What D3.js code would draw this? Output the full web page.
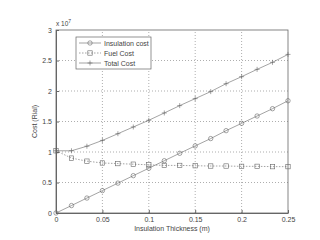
<!DOCTYPE html>
<html>
<head>
<meta charset="utf-8">
<script src="https://cdn.jsdelivr.net/npm/d3@7"></script>
<style>
  body { margin: 0; background: #fff; }
  text { font-family: "Liberation Sans", Arial, sans-serif; fill: #444; }
</style>
</head>
<body>
<div id="chart"></div>
<script>
// thickness (m), 16 samples
const thickness = [0, 0.0167, 0.0333, 0.05, 0.0667, 0.0833, 0.1, 0.1167, 0.1333, 0.15, 0.1667, 0.1833, 0.2, 0.2167, 0.2333, 0.25];
// costs in units of 1e7 Rial
const insulationCost = [0, 0.122, 0.245, 0.367, 0.49, 0.612, 0.734, 0.857, 0.979, 1.10, 1.22, 1.35, 1.47, 1.59, 1.71, 1.84];
const fuelCost = [1.02, 0.90, 0.85, 0.82, 0.81, 0.80, 0.79, 0.78, 0.78, 0.775, 0.77, 0.77, 0.765, 0.765, 0.76, 0.76];
const totalCost = [1.02, 1.02, 1.095, 1.19, 1.30, 1.41, 1.52, 1.64, 1.76, 1.875, 1.99, 2.12, 2.235, 2.355, 2.47, 2.60];
const xTicks = [0, 0.05, 0.1, 0.15, 0.2, 0.25];
const yTicks = [0, 0.5, 1, 1.5, 2, 2.5, 3];
const legendNames = ["Insulation cost", "Fuel Cost", "Total Cost"];

const width = 320, height = 240;
const margin = {top: 30, right: 32, bottom: 27, left: 56};

const svg = d3.select("#chart").append("svg")
  .attr("width", width).attr("height", height);

const x = d3.scaleLinear().domain([0, 0.25]).range([margin.left, width - margin.right]);
const y = d3.scaleLinear().domain([0, 3]).range([height - margin.bottom, margin.top]);

// grid
svg.append("g").selectAll("line").data(xTicks.slice(1, -1)).join("line")
  .attr("x1", d => x(d)).attr("x2", d => x(d))
  .attr("y1", y(0)).attr("y2", y(3))
  .attr("stroke", "#777").attr("stroke-width", 0.6).attr("stroke-dasharray", "1,2");
svg.append("g").selectAll("line").data(yTicks.slice(1, -1)).join("line")
  .attr("x1", x(0)).attr("x2", x(0.25))
  .attr("y1", d => y(d)).attr("y2", d => y(d))
  .attr("stroke", "#777").attr("stroke-width", 0.6).attr("stroke-dasharray", "1,2");

// axes
const xAxis = g => g.attr("transform", `translate(0,${y(0)})`)
  .call(d3.axisBottom(x).tickValues(xTicks).tickFormat(d3.format("")).tickSizeInner(-3).tickSizeOuter(0).tickPadding(4));
const yAxis = g => g.attr("transform", `translate(${x(0)},0)`)
  .call(d3.axisLeft(y).tickValues(yTicks).tickFormat(d3.format("")).tickSizeInner(-3).tickSizeOuter(0).tickPadding(4));

svg.append("g").call(xAxis)
  .call(g => g.selectAll("text").attr("font-size", 7).attr("fill", "#555"));
svg.append("g").call(yAxis)
  .call(g => g.selectAll("text").attr("font-size", 7).attr("fill", "#555"));
svg.selectAll(".domain, .tick line").attr("stroke", "#666");

svg.append("rect")
  .attr("x", x(0)).attr("y", y(3))
  .attr("width", x(0.25) - x(0)).attr("height", y(0) - y(3))
  .attr("fill", "none").attr("stroke", "#666").attr("stroke-width", 0.8);

// labels
svg.append("text").attr("x", x(0)).attr("y", y(3) - 4)
  .attr("font-size", 6.5).attr("fill", "#555").text("x 10")
  .append("tspan").attr("dy", -3).attr("font-size", 5).text("7");
svg.append("text").attr("x", (x(0) + x(0.25)) / 2).attr("y", height - 9)
  .attr("text-anchor", "middle").attr("font-size", 7).attr("fill", "#555")
  .text("Insulation Thickness (m)");
svg.append("text").attr("transform", `translate(37,${(y(0) + y(3)) / 2}) rotate(-90)`)
  .attr("text-anchor", "middle").attr("font-size", 7).attr("fill", "#555")
  .text("Cost (Rial)");

const line = d3.line().x((d, i) => x(thickness[i])).y(d => y(d));
const stroke = "#666";

const series = [
  {values: insulationCost, dash: null, marker: "circle"},
  {values: fuelCost, dash: "1.5,1.5", marker: "square"},
  {values: totalCost, dash: null, marker: "plus"}
];

function drawMarker(g, type, cx, cy) {
  if (type === "circle") {
    g.append("circle").attr("cx", cx).attr("cy", cy).attr("r", 2.2)
      .attr("fill", "none").attr("stroke", stroke).attr("stroke-width", 0.6);
  } else if (type === "square") {
    g.append("rect").attr("x", cx - 2.2).attr("y", cy - 2.2).attr("width", 4.4).attr("height", 4.4)
      .attr("fill", "none").attr("stroke", stroke).attr("stroke-width", 0.6);
  } else {
    g.append("path").attr("d", `M${cx - 2.5},${cy}H${cx + 2.5}M${cx},${cy - 2.5}V${cy + 2.5}`)
      .attr("stroke", stroke).attr("stroke-width", 0.6);
  }
}

series.forEach(s => {
  svg.append("path").datum(s.values)
    .attr("fill", "none").attr("stroke", stroke).attr("stroke-width", 0.6)
    .attr("stroke-dasharray", s.dash).attr("d", line);
  const g = svg.append("g");
  s.values.forEach((v, i) => drawMarker(g, s.marker, x(thickness[i]), y(v)));
});

// legend
const lg = svg.append("g").attr("transform", "translate(76,37)");
lg.append("rect").attr("width", 75).attr("height", 32)
  .attr("fill", "#fff").attr("stroke", "#666").attr("stroke-width", 0.7);
series.forEach((s, i) => {
  const ly = 6 + i * 10;
  lg.append("line").attr("x1", 3).attr("x2", 25).attr("y1", ly).attr("y2", ly)
    .attr("stroke", stroke).attr("stroke-width", 0.6).attr("stroke-dasharray", s.dash);
  drawMarker(lg, s.marker, 14, ly);
  lg.append("text").attr("x", 28).attr("y", ly + 2.5)
    .attr("font-size", 7).attr("fill", "#555").text(legendNames[i]);
});
</script>
</body>
</html>
